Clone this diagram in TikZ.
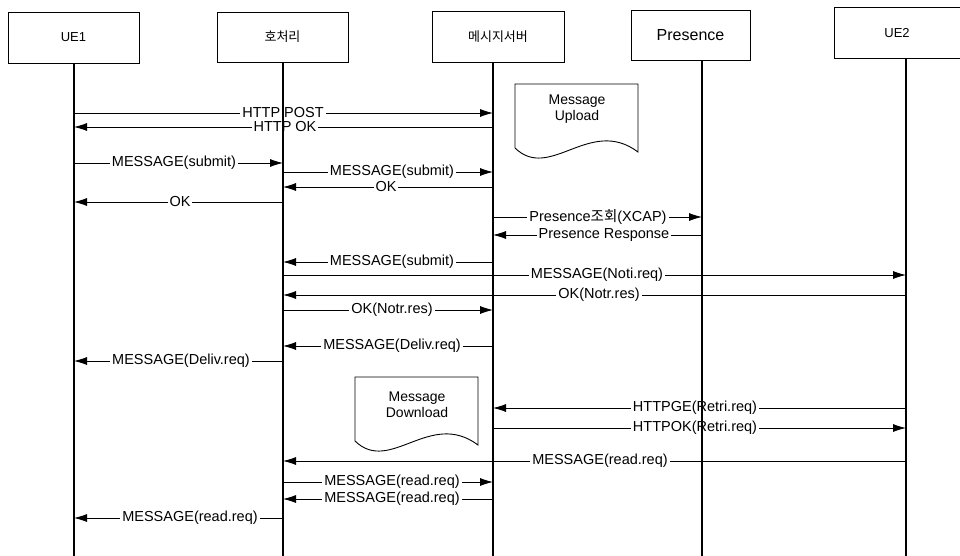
\documentclass[tikz,border=0pt]{standalone}
\usepackage{fontspec}
\setmainfont{Liberation Sans}
\newfontfamily\kr{Noto Sans CJK KR}
\usetikzlibrary{arrows.meta}
\begin{document}
\begin{tikzpicture}[x=1pt,y=-1pt,
  hdr/.style={draw,line width=0.9pt,rectangle,inner sep=0pt},
  life/.style={line width=1.1pt},
  msg/.style={line width=0.8pt,-{Latex[length=13pt,width=8pt]}},
  lbl/.style={fill=white,inner xsep=2pt,inner ysep=0.5pt,font=\fontsize{14.5}{16}\selectfont},
  docbox/.style={draw,line width=0.9pt},
  doctext/.style={align=center,font=\fontsize{14}{16}\selectfont}]
\useasboundingbox (0,0) rectangle (960,556);
% header boxes
\node[hdr,minimum width=131pt,minimum height=51pt,font=\fontsize{13}{15}\selectfont] (ue1) at (73.5,37.5) {UE1};
\node[hdr,minimum width=131pt,minimum height=50pt,font=\fontsize{13}{15}\selectfont\kr] (cc) at (282.5,37) {호처리};
\node[hdr,minimum width=132pt,minimum height=51pt,font=\fontsize{13}{15}\selectfont\kr] (ms) at (498,36.5) {메시지서버};
\node[hdr,minimum width=119pt,minimum height=50pt,font=\fontsize{16}{18}\selectfont] (pr) at (690.5,35) {Presence};
\node[hdr,minimum width=126pt,minimum height=51pt,font=\fontsize{13}{15}\selectfont] (ue2) at (897,33) {UE2};
% lifeline x positions
\coordinate (L1) at (74,0);
\coordinate (L2) at (283,0);
\coordinate (L3) at (493,0);
\coordinate (L4) at (702,0);
\coordinate (L5) at (906,0);
% document shapes
\draw[docbox] (515,148) -- (515,84) -- (638,84) -- (638,152)
  .. controls (590,116) and (550,182) .. (515,148);
\node[doctext] (up) at (577,109) {Message\\Upload};
\draw[docbox] (355,441) -- (355,377) -- (478,377) -- (478,445)
  .. controls (430,409) and (390,475) .. (355,441);
\node[doctext] (down) at (417,405) {Message\\Download};
% messages
\draw[msg] (L1 |- 0,113) -- (L3 |- 0,113);
\node[lbl] (m1) at (283,113) {HTTP POST};
\draw[msg] (L3 |- 0,127) -- (L1 |- 0,127);
\node[lbl] (m2) at (285,127) {HTTP OK};
\draw[msg] (L1 |- 0,163) -- (L2 |- 0,163);
\node[lbl] (m3) at (174,163) {MESSAGE(submit)};
\draw[msg] (L2 |- 0,172) -- (L3 |- 0,172);
\node[lbl] (m4) at (392,172) {MESSAGE(submit)};
\draw[msg] (L3 |- 0,187) -- (L2 |- 0,187);
\node[lbl] (m5) at (386,187) {OK};
\draw[msg] (L2 |- 0,202) -- (L1 |- 0,202);
\node[lbl] (m6) at (180,202) {OK};
\draw[msg] (L3 |- 0,217) -- (L4 |- 0,217);
\node[lbl] (m7) at (598,217) {Presence{\kr 조회}(XCAP)};
\draw[msg] (L4 |- 0,235) -- (L3 |- 0,235);
\node[lbl] (m8) at (604,235) {Presence Response};
\draw[msg] (L3 |- 0,262) -- (L2 |- 0,262);
\node[lbl] (m9) at (392,262) {MESSAGE(submit)};
\draw[msg] (L2 |- 0,275) -- (L5 |- 0,275);
\node[lbl] (m10) at (597,275) {MESSAGE(Noti.req)};
\draw[msg] (L5 |- 0,295) -- (L2 |- 0,295);
\node[lbl] (m11) at (599,295) {OK(Notr.res)};
\draw[msg] (L2 |- 0,310) -- (L3 |- 0,310);
\node[lbl] (m12) at (392,310) {OK(Notr.res)};
\draw[msg] (L3 |- 0,346) -- (L2 |- 0,346);
\node[lbl] (m13) at (392,346) {MESSAGE(Deliv.req)};
\draw[msg] (L2 |- 0,361) -- (L1 |- 0,361);
\node[lbl] (m14) at (181,361) {MESSAGE(Deliv.req)};
\draw[msg] (L5 |- 0,408) -- (L3 |- 0,408);
\node[lbl] (m15) at (695,408) {HTTPGE(Retri.req)};
\draw[msg] (L3 |- 0,428) -- (L5 |- 0,428);
\node[lbl] (m16) at (695,428) {HTTPOK(Retri.req)};
\draw[msg] (L5 |- 0,461) -- (L2 |- 0,461);
\node[lbl] (m17) at (600,461) {MESSAGE(read.req)};
\draw[msg] (L2 |- 0,482) -- (L3 |- 0,482);
\node[lbl] (m18) at (392,482) {MESSAGE(read.req)};
\draw[msg] (L3 |- 0,499) -- (L2 |- 0,499);
\node[lbl] (m19) at (392,499) {MESSAGE(read.req)};
\draw[msg] (L2 |- 0,518) -- (L1 |- 0,518);
\node[lbl] (m20) at (190,518) {MESSAGE(read.req)};
% lifelines (drawn last, over labels as in the reference)
\draw[life] (L1 |- ue1.south) -- (L1 |- 0,556);
\draw[life] (L2 |- cc.south) -- (L2 |- 0,556);
\draw[life] (L3 |- ms.south) -- (L3 |- 0,556);
\draw[life] (L4 |- pr.south) -- (L4 |- 0,556);
\draw[life] (L5 |- ue2.south) -- (L5 |- 0,556);
\end{tikzpicture}
\end{document}
